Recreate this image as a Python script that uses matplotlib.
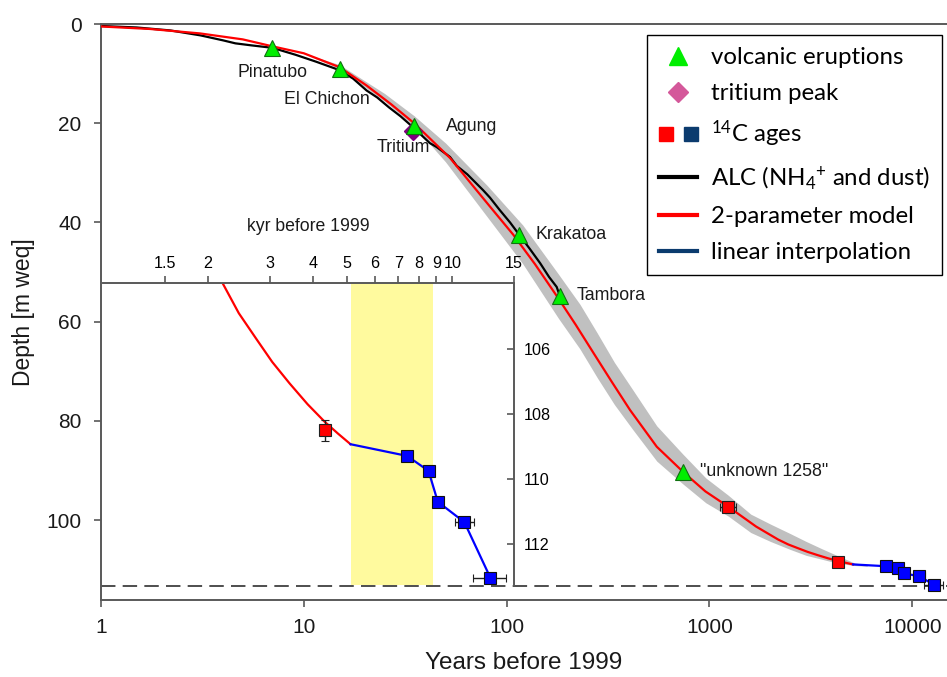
import numpy as np
import matplotlib
matplotlib.use("Agg")
import matplotlib.pyplot as plt
from matplotlib.lines import Line2D
from matplotlib.legend_handler import HandlerTuple
from matplotlib.ticker import FixedLocator, FixedFormatter, NullLocator

plt.rcParams["font.family"] = ["Liberation Sans", "DejaVu Sans"]
plt.rcParams["mathtext.fontset"] = "custom"
plt.rcParams["mathtext.rm"] = "Lato"
plt.rcParams["mathtext.default"] = "regular"

# 2-parameter model (years before 1999, depth m weq)
model_years = [1, 1.74, 3.08, 5, 7, 10, 15, 20.4, 27, 35, 52.6, 82.8, 108, 138, 176.6, 219, 270,
               331, 406, 550, 743, 955, 1239, 1700, 2180, 2447, 2750, 3050, 3420, 3850, 4310,
               4700, 5110]
model_depth = [0.5, 1.0, 1.9, 3.1, 4.5, 5.9, 8.7, 12.4, 16.2, 20.0, 27.0, 36.8, 42.5, 48.4, 54.8,
               60.6, 66.5, 72.2, 77.8, 85.2, 90.3, 94.2, 97.3, 101.3, 103.9, 104.9, 105.7, 106.4,
               107.06, 107.7, 108.24, 108.6, 108.93]

# model uncertainty envelope
band_years = [10, 15, 25, 35, 50, 80, 120, 180, 230, 280, 340, 420, 550, 740, 960, 1240, 1600,
              2000, 2500, 3000, 3600, 4300, 5200, 6000]
band_top = [5.9, 8.2, 14.0, 18.5, 24.0, 32.5, 40.5, 50.4, 56.5, 62.3, 68.2, 73.8, 81.0, 86.7,
            91.5, 95.0, 98.8, 100.8, 102.7, 104.3, 105.8, 107.2, 108.65, 109.0]
band_bottom = [6.0, 9.0, 15.6, 20.6, 27.8, 38.8, 48.3, 59.3, 65.5, 71.3, 76.7, 81.8, 88.1, 92.7,
               96.5, 99.2, 102.5, 104.3, 105.9, 107.1, 107.9, 108.7, 109.15, 109.3]

# annual layer counting
alc_years = [1, 1.5, 2.2, 3.1, 4.0, 4.6, 5.5, 7.0, 9.1, 11.5, 15.0, 17.5, 20.4, 23.0, 26.3, 30.0,
             35.0, 41.8, 45.2, 52.6, 56.8, 64, 76.6, 82.8, 92.5, 104, 115.5, 130, 146.3, 162, 176.6, 183]
alc_depth = [0.4, 0.7, 1.3, 2.3, 3.3, 3.9, 4.3, 4.8, 6.2, 7.6, 9.3, 11.0, 13.4, 14.8, 16.8, 18.6,
             21.0, 24.0, 24.8, 26.8, 28.6, 30.3, 33.5, 35.0, 37.5, 40.0, 42.5, 45.3, 48.2, 51.0, 53.0, 54.8]

# linear interpolation below the model range
interp_years = [5110, 7420, 8540, 9080, 10820, 12840]
interp_depth = [108.93, 109.29, 109.75, 110.70, 111.33, 113.04]

# 14C ages
c14_red_years = [1239, 4310]
c14_red_depth = [97.3, 108.5]
c14_red_xerr = [115, 0]
c14_red_yerr = [0, 0.32]
c14_blue_years = [7420, 8540, 9080, 10820, 12840]
c14_blue_depth = [109.29, 109.75, 110.70, 111.33, 113.04]
c14_blue_xerr = [0, 0, 0, 680, 1400]

# reference horizons
volc_names = ["Pinatubo", "El Chichon", "Agung", "Krakatoa", "Tambora", '"unknown 1258"']
volc_years = [7.0, 15.0, 35.1, 115.5, 183, 743]
volc_depth = [4.8, 9.1, 20.6, 42.5, 54.8, 90.3]
volc_offsets = [(0, -17.5), (21.6, -21.6), (23, 0), (11.5, 0), (12.2, 0), (12.2, 0)]
volc_ha = ["center", "right", "left", "left", "left", "left"]
tritium_years = [34.6]
tritium_depth = [21.6]

bedrock_depth = 113.3

inset_ticks = [1.5, 2, 3, 4, 5, 6, 7, 8, 9, 10, 15]
inset_yticks = [106, 108, 110, 112]
gap_kyr = [5.11, 8.79]

spine_col = "#595959"

fig = plt.figure(figsize=(9.47, 6.77), dpi=100)
ax = fig.add_axes([101/947, 77/677, 846/947, 576/677])
ax.set_xscale("log")
ax.set_xlim(1, 10**(846/202.8))
ax.set_ylim(116.1, 0)

ax.fill_between(band_years, band_top, band_bottom, color="#C0C0C0", lw=0, zorder=1)
ax.plot(model_years, model_depth, color="red", lw=1.6, zorder=3)
ax.plot(alc_years, alc_depth, color="black", lw=1.6, zorder=2)
ax.plot(interp_years, interp_depth, color="blue", lw=1.6, zorder=3)
ax.axhline(bedrock_depth, color="#404040", lw=1.3, dashes=(8, 4), zorder=2)

ax.errorbar(c14_red_years, c14_red_depth, xerr=c14_red_xerr, fmt="s", ms=8, mfc="red",
            mec="#202020", mew=0.8, ecolor="#202020", elinewidth=1, capsize=3, zorder=5)
ax.errorbar(c14_blue_years, c14_blue_depth, xerr=c14_blue_xerr, fmt="s", ms=8, mfc="blue",
            mec="#101010", mew=0.8, ecolor="#202020", elinewidth=1, capsize=3, zorder=5)
ax.plot(tritium_years, tritium_depth, "D", ms=9, color="#800080", zorder=5)
ax.plot(volc_years, volc_depth, "^", ms=11, mfc="#00EE00", mec="#107010", mew=0.8, zorder=6)

for name, x, y, off, ha in zip(volc_names, volc_years, volc_depth, volc_offsets, volc_ha):
    ax.annotate(name, (x, y), xytext=off, textcoords="offset points", ha=ha, va="center",
                fontsize=12.8, color="#1a1a1a")
ax.annotate("Tritium", (tritium_years[0], tritium_depth[0]), xytext=(12.2, -11.5),
            textcoords="offset points", ha="right", va="center", fontsize=12.8, color="#1a1a1a")

ax.xaxis.set_major_locator(FixedLocator([1, 10, 100, 1000, 10000]))
ax.xaxis.set_major_formatter(FixedFormatter(["1", "10", "100", "1000", "10000"]))
ax.xaxis.set_minor_locator(NullLocator())
ax.set_yticks([0, 20, 40, 60, 80, 100])
ax.tick_params(axis="both", labelsize=15, color=spine_col, width=1.2, length=5, labelcolor="#1a1a1a")
ax.tick_params(axis="x", pad=8)
ax.tick_params(axis="y", pad=9)
for s in ["left", "bottom", "top"]:
    ax.spines[s].set_color(spine_col)
    ax.spines[s].set_linewidth(1.4)
ax.spines["right"].set_visible(False)
ax.set_xlabel("Years before 1999", fontsize=17.5, color="#1a1a1a", labelpad=11)
ax.set_ylabel("Depth [m weq]", fontsize=16.5, color="#1a1a1a", labelpad=8)

leg_handles = [
    Line2D([], [], ls="", marker="^", ms=13, mfc="#00EE00", mec="#00EE00"),
    Line2D([], [], ls="", marker="D", ms=10, color="#D4589A"),
    (Line2D([], [], ls="", marker="s", ms=10, color="red"),
     Line2D([], [], ls="", marker="s", ms=10, color="#0B3B6E")),
    Line2D([], [], color="black", lw=3),
    Line2D([], [], color="red", lw=3),
    Line2D([], [], color="#0B3B6E", lw=3),
]
leg_labels = ["volcanic eruptions", "tritium peak", r"$^{14}$C ages",
              r"ALC (NH$_{4}{}^{+}$ and dust)", "2-parameter model", "linear interpolation"]
leg = ax.legend(leg_handles, leg_labels, loc="upper left",
                bbox_to_anchor=(647/947, 1 - 35/677), bbox_transform=fig.transFigure,
                handler_map={tuple: HandlerTuple(ndivide=None, pad=0.5)},
                prop={"family": "Lato", "size": 17.3}, frameon=True, fancybox=False,
                edgecolor="black", framealpha=1, handlelength=1.6, handletextpad=0.55,
                labelspacing=0.62, borderpad=0.5, borderaxespad=0)
leg.get_frame().set_linewidth(1.0)
leg.set_zorder(10)

# inset: deepest part of the core in kyr
axin = fig.add_axes([103/947, 92/677, 411/947, 301.7/677])
axin.set_xscale("log")
axin.set_xlim(1, 15)
axin.set_ylim(113.26, 103.98)
axin.axvspan(gap_kyr[0], gap_kyr[1], color="#FFFA9E", lw=0, zorder=0)
axin.plot(np.array(model_years) / 1000, model_depth, color="red", lw=1.6)
axin.plot(np.array(interp_years) / 1000, interp_depth, color="blue", lw=1.6)
axin.errorbar(np.array(c14_red_years) / 1000, c14_red_depth, yerr=c14_red_yerr, fmt="s", ms=8,
              mfc="red", mec="#202020", mew=0.8, ecolor="#202020", elinewidth=1, capsize=3)
axin.errorbar(np.array(c14_blue_years) / 1000, c14_blue_depth, xerr=np.array(c14_blue_xerr) / 1000,
              fmt="s", ms=8, mfc="blue", mec="#101010", mew=0.8, ecolor="#202020",
              elinewidth=1, capsize=3)

axin.xaxis.tick_top()
axin.xaxis.set_label_position("top")
axin.xaxis.set_major_locator(FixedLocator(inset_ticks))
axin.xaxis.set_major_formatter(FixedFormatter([str(t) for t in inset_ticks]))
axin.xaxis.set_minor_locator(NullLocator())
axin.yaxis.tick_right()
axin.set_yticks(inset_yticks)
axin.tick_params(axis="x", labelsize=11.6, color=spine_col, width=1.2, length=5, pad=4)
axin.tick_params(axis="y", direction="in", labelsize=11.6, color=spine_col, width=1.2,
                 length=5, pad=7)
axin.set_xlabel("kyr before 1999", fontsize=12.7, labelpad=18, color="#1a1a1a")
for s in ["left", "bottom"]:
    axin.spines[s].set_visible(False)
for s in ["top", "right"]:
    axin.spines[s].set_color(spine_col)
    axin.spines[s].set_linewidth(1.4)

fig.savefig("out.png", dpi=100)
